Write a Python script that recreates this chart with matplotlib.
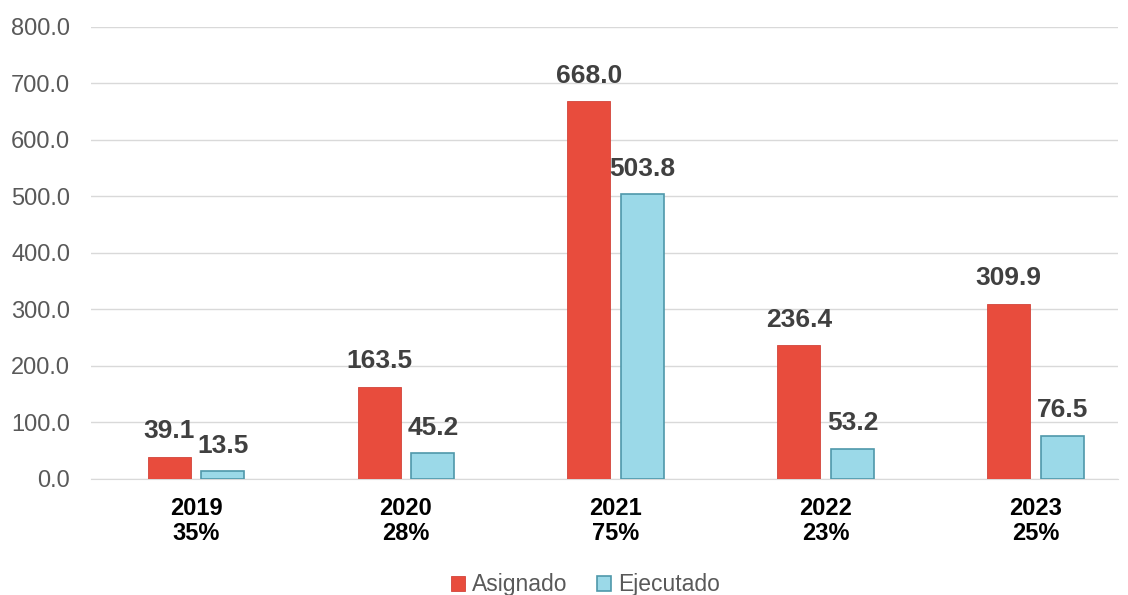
import matplotlib.pyplot as plt
import numpy as np

years = ["2019", "2020", "2021", "2022", "2023"]
pct = ["35%", "28%", "75%", "23%", "25%"]
asignado = [39.1, 163.5, 668.0, 236.4, 309.9]
ejecutado = [13.5, 45.2, 503.8, 53.2, 76.5]

plt.rcParams['font.family'] = ['Liberation Sans', 'DejaVu Sans']

fig = plt.figure(figsize=(11.28, 5.95), dpi=100)
ax = fig.add_axes([0.0807, 0.195, 0.91, 0.76])

x = np.arange(len(years))
w = 0.205
off = 0.128

b1 = ax.bar(x - off, asignado, w, color='#e84c3d', edgecolor='#d2443a', linewidth=0.6,
            label='Asignado', zorder=3)
b2 = ax.bar(x + off, ejecutado, w, color='#9bd9e8', edgecolor='#4f98aa', linewidth=1.2,
            label='Ejecutado', zorder=3)

for xi, v in zip(x - off, asignado):
    ax.text(xi, v + 24, "%.1f" % v, ha='center', va='bottom', fontsize=19,
            fontweight='bold', color='#404040')
for xi, v in zip(x + off, ejecutado):
    ax.text(xi, v + 24, "%.1f" % v, ha='center', va='bottom', fontsize=19,
            fontweight='bold', color='#404040')

ax.set_ylim(0, 800)
ax.set_yticks(np.arange(0, 801, 100))
ax.set_yticklabels(["%.1f" % t for t in np.arange(0, 801, 100)], fontsize=17, color='#595959')
ax.set_xlim(-0.5, 4.39)
ax.set_xticks(x)
ax.set_xticklabels([y + "\n" + p for y, p in zip(years, pct)], fontsize=17,
                   fontweight='bold', color='black', linespacing=1.1)
ax.tick_params(axis='both', length=0)
ax.tick_params(axis='x', pad=13)
ax.tick_params(axis='y', pad=15)

ax.grid(axis='y', color='#d9d9d9', linewidth=1, zorder=0)
for s in ['top', 'right', 'left']:
    ax.spines[s].set_visible(False)
ax.spines['bottom'].set_color('#d9d9d9')

fig.legend(loc='lower center', bbox_to_anchor=(0.519, -0.037), ncol=2, frameon=False,
           fontsize=16.5, handlelength=0.6, handleheight=0.6, handletextpad=0.3,
           columnspacing=1.3, labelcolor='#595959')

fig.savefig("out.png", dpi=100)
